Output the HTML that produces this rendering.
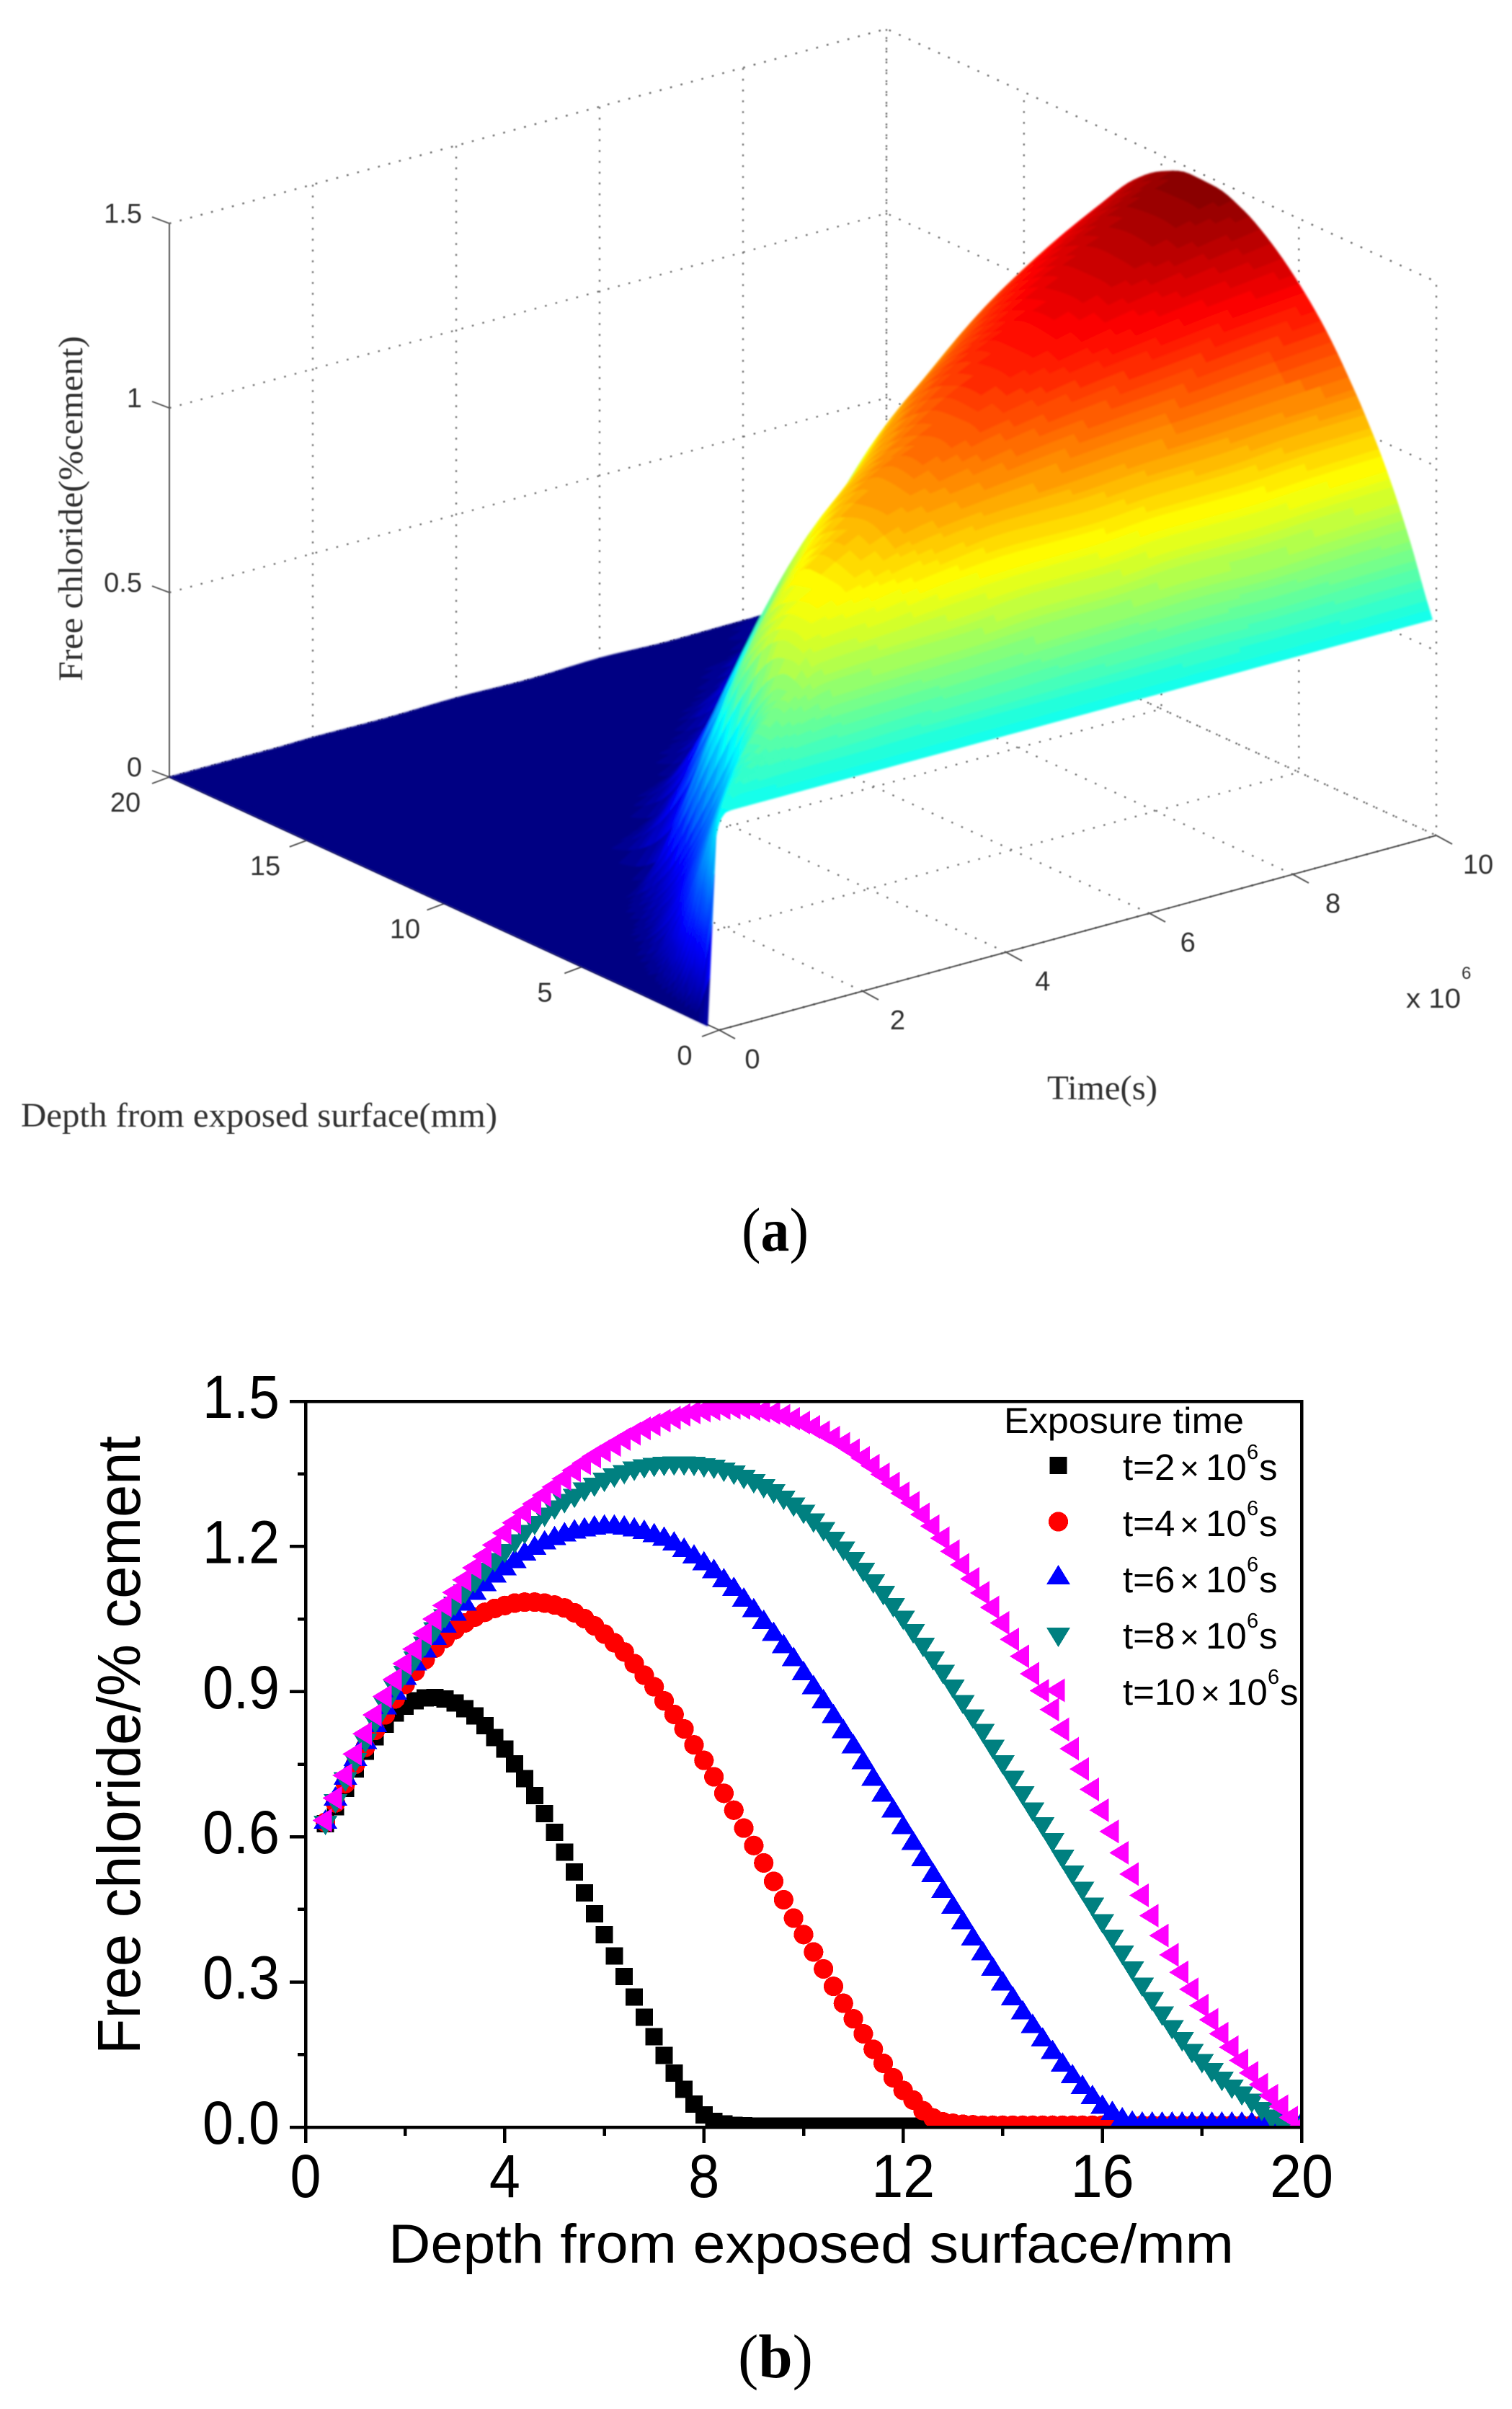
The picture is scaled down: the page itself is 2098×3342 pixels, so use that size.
<!DOCTYPE html>
<html lang="en">
<head>
<meta charset="utf-8">
<title>Free chloride profiles</title>
<style>
html,body{margin:0;padding:0;background:#fff;}
svg{display:block;}
.sans{font-family:"Liberation Sans",sans-serif;}
.serif{font-family:"Liberation Serif",serif;}
</style>
</head>
<body>
<svg id="fig" xmlns="http://www.w3.org/2000/svg" width="2098" height="3342" viewBox="0 0 2098 3342">
  <defs>
    <filter id="soft" filterUnits="userSpaceOnUse" x="0" y="0" width="2098" height="1700"><feGaussianBlur stdDeviation="1.3"/></filter>
    <filter id="softText" filterUnits="userSpaceOnUse" x="0" y="0" width="2098" height="1700"><feGaussianBlur stdDeviation="0.6"/></filter>
    <clipPath id="plotClip"><rect x="421" y="1942" width="1387" height="1011.5"/></clipPath>
  </defs>
  <rect x="0" y="0" width="2098" height="3342" fill="#fff"/>

  <g id="panelA">
    <g id="a-grid" fill="none" stroke="#777" stroke-width="2.4" stroke-dasharray="2.6 12.4" filter="url(#softText)"></g>
    <g id="a-axes" fill="none" stroke="#555" stroke-width="2" filter="url(#softText)"></g>
    <g id="a-surface" filter="url(#soft)"></g>
    <g id="a-labels" class="sans" font-size="38" fill="#333" filter="url(#softText)"></g>
    <g filter="url(#softText)" fill="#333">
      <text class="sans" x="1951" y="1398" font-size="38" textLength="76" lengthAdjust="spacingAndGlyphs">x 10</text>
      <text class="sans" x="2028" y="1358" font-size="24">6</text>
      <text class="serif" x="1453" y="1525" font-size="48" textLength="153" lengthAdjust="spacingAndGlyphs">Time(s)</text>
      <text class="serif" x="29" y="1563" font-size="48" textLength="661" lengthAdjust="spacingAndGlyphs">Depth from exposed surface(mm)</text>
      <text class="serif" x="0" y="0" font-size="48" textLength="479" lengthAdjust="spacingAndGlyphs" transform="translate(114 945) rotate(-90)">Free chloride(%cement)</text>
    </g>
  </g>
  <text class="serif" x="1029" y="1735" font-size="86" textLength="93" lengthAdjust="spacingAndGlyphs" fill="#000">(<tspan font-weight="bold">a</tspan>)</text>

  <g id="panelB">
    <g id="b-series" clip-path="url(#plotClip)" shape-rendering="crispEdges"></g>
    <g id="b-axes" stroke="#000" stroke-width="4.5" fill="none" shape-rendering="crispEdges"></g>
    <g id="b-labels" class="sans" font-size="84" fill="#000"></g>
    <text class="sans" x="539" y="3139" font-size="76" textLength="1173" lengthAdjust="spacingAndGlyphs" fill="#000">Depth from exposed surface/mm</text>
    <text class="sans" x="0" y="0" font-size="84" textLength="858" lengthAdjust="spacingAndGlyphs" fill="#000" transform="translate(194 2850) rotate(-90)">Free chloride/% cement</text>
    <g id="b-legend">
      <text class="sans" x="1393" y="1988" font-size="50" textLength="333" lengthAdjust="spacingAndGlyphs">Exposure time</text>
      <text class="sans" y="2053" font-size="51"><tspan x="1558">t=2</tspan><tspan x="1637" font-size="46">×</tspan><tspan x="1673">10</tspan><tspan x="1730" dy="-29" font-size="29">6</tspan><tspan x="1747" dy="29">s</tspan></text>
      <text class="sans" y="2131" font-size="51"><tspan x="1558">t=4</tspan><tspan x="1637" font-size="46">×</tspan><tspan x="1673">10</tspan><tspan x="1730" dy="-29" font-size="29">6</tspan><tspan x="1747" dy="29">s</tspan></text>
      <text class="sans" y="2209" font-size="51"><tspan x="1558">t=6</tspan><tspan x="1637" font-size="46">×</tspan><tspan x="1673">10</tspan><tspan x="1730" dy="-29" font-size="29">6</tspan><tspan x="1747" dy="29">s</tspan></text>
      <text class="sans" y="2287" font-size="51"><tspan x="1558">t=8</tspan><tspan x="1637" font-size="46">×</tspan><tspan x="1673">10</tspan><tspan x="1730" dy="-29" font-size="29">6</tspan><tspan x="1747" dy="29">s</tspan></text>
      <text class="sans" y="2365" font-size="51"><tspan x="1558">t=10</tspan><tspan x="1666" font-size="46">×</tspan><tspan x="1702">10</tspan><tspan x="1759" dy="-29" font-size="29">6</tspan><tspan x="1776" dy="29">s</tspan></text>
    </g>
  </g>
  <text class="serif" x="1024" y="3298" font-size="86" textLength="104" lengthAdjust="spacingAndGlyphs" fill="#000">(<tspan font-weight="bold">b</tspan>)</text>
</svg>

<script>
/* ---------- panel (b) data ---------- */
const depths = [0.4,0.6,0.8,1.0,1.2,1.4,1.6,1.8,2.0,2.2,2.4,2.6,2.8,3.0,3.2,3.4,3.6,3.8,4.0,4.2,4.4,4.6,4.8,5.0,5.2,5.4,5.6,5.8,6.0,6.2,6.4,6.6,6.8,7.0,7.2,7.4,7.6,7.8,8.0,8.2,8.4,8.6,8.8,9.0,9.2,9.4,9.6,9.8,10.0,10.2,10.4,10.6,10.8,11.0,11.2,11.4,11.6,11.8,12.0,12.2,12.4,12.6,12.8,13.0,13.2,13.4,13.6,13.8,14.0,14.2,14.4,14.6,14.8,15.0,15.2,15.4,15.6,15.8,16.0,16.2,16.4,16.6,16.8,17.0,17.2,17.4,17.6,17.8,18.0,18.2,18.4,18.6,18.8,19.0,19.2,19.4,19.6,19.8,20.0];
const chlorideT2 = [.627,.662,.700,.740,.777,.807,.833,.856,.870,.881,.887,.888,.885,.877,.865,.850,.830,.805,.781,.751,.720,.685,.648,.609,.568,.527,.484,.441,.398,.354,.311,.269,.227,.187,.148,.112,.078,.048,.025,.012,.007,.004,.003,
  .002,.002,.002,.002,.002,.002,.002,.002,.002,.002,.002,.002,.002,.002,.002,.002,.002,.002,.002,.002,.002,.002,.002,.002,.002,.002,.002,.002,.002,.002,.002,.002,.002,.002,.002,.002,.002,.002,.002,.002,.002,.002,.002,.002,.002,.002,.002,.002,.002,.002,.002,.002,.002,.002,.002,.002];
const chlorideT4 = [.630,.670,.710,.750,.785,.820,.852,.885,.915,.942,.966,.990,1.010,1.028,1.042,1.054,1.064,1.072,1.078,1.083,1.085,1.085,1.083,1.079,1.073,1.063,1.051,1.036,1.019,1.001,.982,.958,.934,.910,.881,.853,.823,.790,.758,.724,.690,.655,.618,.582,.546,.508,.470,.432,.398,.362,.327,.291,.256,.224,.193,.161,.132,.102,.076,.056,.034,.019,.011,.008,.006,.005,
  .004,.004,.004,.004,.004,.004,.004,.004,.004,.004,.004,.004,.004,.004,.004,.004,.004,.004,.004,.004,.004,.004,.004,.004,.004,.004,.004,.004,.004,.004,.004,.004,.004];
const chlorideT6 = [.630,.678,.721,.760,.795,.830,.866,.897,.927,.957,.984,1.010,1.035,1.060,1.081,1.103,1.121,1.139,1.154,1.169,1.184,1.196,1.207,1.216,1.224,1.230,1.234,1.238,1.240,1.240,1.238,1.234,1.229,1.222,1.215,1.205,1.192,1.178,1.164,1.148,1.129,1.111,1.089,1.067,1.043,1.018,.993,.966,.937,.908,.879,.848,.817,.786,.753,.719,.686,.653,.619,.586,.553,.520,.487,.454,.422,.389,.358,.326,.296,.265,.236,.208,.180,.154,.128,.104,.082,.061,.041,.028,.015,.008,
  .006,.006,.006,.006,.006,.006,.006,.006,.006,.006,.006,.006,.006,.006,.006,.006,.006];
const chlorideT8 = [.630,.675,.720,.760,.800,.840,.875,.910,.940,.970,1.000,1.030,1.057,1.083,1.108,1.130,1.153,1.173,1.192,1.212,1.231,1.250,1.267,1.282,1.295,1.306,1.319,1.329,1.339,1.348,1.355,1.362,1.367,1.370,1.372,1.373,1.373,1.372,1.369,1.366,1.360,1.354,1.345,1.336,1.326,1.315,1.302,1.288,1.273,1.255,1.237,1.217,1.197,1.175,1.153,1.129,1.105,1.080,1.054,1.026,.998,.970,.942,.912,.880,.850,.820,.787,.755,.723,.691,.658,.627,.594,.560,.527,.494,.461,.427,.395,.362,.329,.296,.266,.236,.208,.183,.159,.138,.119,.101,.085,.071,.056,.039,.023,.012,.005,.002];
const chlorideT10 = [.634,.680,.727,.771,.813,.852,.890,.925,.958,.988,1.020,1.050,1.078,1.105,1.131,1.156,1.180,1.203,1.228,1.249,1.270,1.288,1.306,1.323,1.340,1.357,1.372,1.386,1.398,1.410,1.422,1.433,1.444,1.452,1.460,1.466,1.472,1.477,1.481,1.484,1.486,1.487,1.486,1.484,1.480,1.476,1.470,1.464,1.456,1.447,1.436,1.425,1.412,1.399,1.383,1.367,1.349,1.330,1.310,1.290,1.266,1.242,1.217,1.190,1.162,1.133,1.104,1.074,1.042,1.008,.973,.937,.902,.863,.822,.782,.740,.698,.655,.611,.567,.523,.479,.437,.396,.356,.320,.285,.251,.222,.193,.165,.138,.112,.088,.065,.043,.020,.002];
const xTickLabels = ["0","4","8","12","16","20"];
const yTickLabels = ["0.0","0.3","0.6","0.9","1.2","1.5"];
const xMinorTicks = [2,6,10,14,18];
const yMinorTicks = [0.15,0.45,0.75,1.05,1.35];

/* ---------- panel (a) data ---------- */
const surfaceDepths = [0.15,0.4,0.6,0.8,1,1.5,2,2.5,3,4,5,6,7,8,9,10,11,12,13,14,15,16,17,18,19,20];
const surfaceTimes = [0,0.03,0.1,0.25,0.5,1,1.5,2,3,4,5,6,7,8,9,10];
const surfT0   = [0,0,0,0,0,0,0,0,0,0,0,0,0,0,0,0,0,0,0,0,0,0,0,0,0,0];
const surfT003 = [.56,.30,.12,.04,.01,0,0,0,0,0,0,0,0,0,0,0,0,0,0,0,0,0,0,0,0,0];
const surfT01  = [.575,.50,.38,.26,.17,.05,.01,0,0,0,0,0,0,0,0,0,0,0,0,0,0,0,0,0,0,0];
const surfT025 = [.58,.60,.56,.50,.42,.27,.14,.06,.02,0,0,0,0,0,0,0,0,0,0,0,0,0,0,0,0,0];
const surfT05  = [.58,.62,.63,.62,.58,.47,.34,.22,.13,.02,0,0,0,0,0,0,0,0,0,0,0,0,0,0,0,0];
const surfT1   = [.58,.625,.655,.67,.68,.67,.59,.49,.38,.19,.06,.01,0,0,0,0,0,0,0,0,0,0,0,0,0,0];
const surfT15  = [.58,.627,.66,.69,.72,.76,.74,.68,.60,.41,.24,.10,.03,0,0,0,0,0,0,0,0,0,0,0,0,0];
const surfT2   = [.58,.627,.662,.70,.74,.82,.87,.888,.877,.781,.609,.398,.187,.025,.003,.002,.002,.002,.002,.002,.002,.002,.002,.002,.002,.002];
const surfT3   = [.58,.63,.668,.705,.745,.83,.89,.94,.97,.99,.92,.78,.60,.43,.23,.08,.01,0,0,0,0,0,0,0,0,0];
const surfT4   = [.58,.63,.67,.71,.75,.835,.915,.977,1.028,1.078,1.079,1.019,.91,.758,.582,.398,.224,.076,.008,.004,.004,.004,.004,.004,.004,.004];
const surfT5   = [.58,.63,.675,.716,.757,.85,.925,1.0,1.05,1.12,1.165,1.14,1.08,.98,.83,.655,.48,.31,.16,.05,.01,0,0,0,0,0];
const surfT6   = [.58,.63,.678,.721,.76,.848,.927,.997,1.06,1.154,1.216,1.24,1.222,1.164,1.067,.937,.786,.619,.454,.296,.154,.041,.006,.006,.006,.006];
const surfT7   = [.58,.632,.68,.725,.765,.86,.94,1.01,1.075,1.175,1.255,1.295,1.305,1.275,1.215,1.12,1.0,.85,.69,.53,.37,.22,.10,.02,0,0];
const surfT8   = [.58,.63,.675,.72,.76,.857,.94,1.015,1.083,1.192,1.282,1.339,1.37,1.369,1.336,1.273,1.175,1.054,.912,.755,.594,.427,.266,.138,.056,.002];
const surfT9   = [.58,.632,.678,.724,.766,.865,.95,1.03,1.095,1.212,1.305,1.37,1.415,1.43,1.42,1.375,1.30,1.20,1.07,.915,.74,.55,.36,.20,.09,.002];
const surfT10  = [.58,.634,.68,.727,.771,.87,.958,1.035,1.105,1.228,1.323,1.398,1.452,1.481,1.484,1.456,1.399,1.31,1.19,1.042,.863,.655,.437,.251,.112,.002];
const surfaceRows = [surfT0,surfT003,surfT01,surfT025,surfT05,surfT1,surfT15,surfT2,surfT3,surfT4,surfT5,surfT6,surfT7,surfT8,surfT9,surfT10];
const aChlorideTicks = ["0","0.5","1","1.5"];
const aDepthTicks = ["0","5","10","15","20"];
const aTimeTicks = ["0","2","4","6","8","10"];

const NS = "http://www.w3.org/2000/svg";
function make(tag, parent){
  const el = document.createElementNS(NS, tag);
  parent.appendChild(el);
  return el;
}

/* ---------- panel (b) axis functions ---------- */
function xScale(v){ return 424 + v * 69.1; }
function yScale(v){ return 2951 - v * 671.3; }

const bAxes = document.getElementById("b-axes");
const bLabels = document.getElementById("b-labels");
const bSeries = document.getElementById("b-series");
const bLegend = document.getElementById("b-legend");

const frame = make("rect", bAxes);
frame.setAttribute("x", xScale(0));
frame.setAttribute("y", yScale(1.5));
frame.setAttribute("width", xScale(20) - xScale(0));
frame.setAttribute("height", yScale(0) - yScale(1.5));



function tickLine(x1, y1, x2, y2, name){
  const l = make("line", bAxes);
  l.setAttribute("x1", x1);
  l.setAttribute("y1", y1);
  l.setAttribute("x2", x2);
  l.setAttribute("y2", y2);
  
  
}
xTickLabels.forEach(function(s){
  const v = parseFloat(s);
  tickLine(xScale(v), yScale(0), xScale(v), yScale(0) + 22, "b-x-major-tick");
  const t = make("text", bLabels);
  t.setAttribute("x", xScale(v));
  t.setAttribute("y", 3048);
  t.setAttribute("text-anchor", "middle");
  t.setAttribute("textLength", s.length > 1 ? 88 : 43);
  t.setAttribute("lengthAdjust", "spacingAndGlyphs");
  
  
  t.textContent = s;
});
xMinorTicks.forEach(function(v){
  tickLine(xScale(v), yScale(0), xScale(v), yScale(0) + 12, "b-x-minor-tick");
});
yTickLabels.forEach(function(s){
  const v = parseFloat(s);
  tickLine(xScale(0) - 22, yScale(v), xScale(0), yScale(v), "b-y-major-tick");
  const t = make("text", bLabels);
  t.setAttribute("x", 281);
  t.setAttribute("y", yScale(v) + 23);
  t.setAttribute("textLength", 107);
  t.setAttribute("lengthAdjust", "spacingAndGlyphs");
  
  
  t.textContent = s;
});
yMinorTicks.forEach(function(v){
  tickLine(xScale(0) - 11, yScale(v), xScale(0), yScale(v), "b-y-minor-tick");
});

function drawMarker(parent, kind, color, cx, cy, name){
  let m;
  if (kind === "square") {
    m = make("rect", parent);
    m.setAttribute("x", cx - 12);
    m.setAttribute("y", cy - 12);
    m.setAttribute("width", 24);
    m.setAttribute("height", 24);
  } else if (kind === "circle") {
    m = make("circle", parent);
    m.setAttribute("cx", cx);
    m.setAttribute("cy", cy);
    m.setAttribute("r", 13.6);
  } else {
    m = make("polygon", parent);
    let pts;
    if (kind === "up") {
      pts = [[cx, cy - 18], [cx + 16.5, cy + 9], [cx - 16.5, cy + 9]];
    } else if (kind === "down") {
      pts = [[cx, cy + 18], [cx + 16.5, cy - 9], [cx - 16.5, cy - 9]];
    } else {
      pts = [[cx - 18, cy], [cx + 9, cy - 16.5], [cx + 9, cy + 16.5]];
    }
    m.setAttribute("points", pts.map(function(p){ return p[0].toFixed(1) + "," + p[1].toFixed(1); }).join(" "));
  }
  m.setAttribute("fill", color);
  
  
}

const seriesValues = [chlorideT2, chlorideT4, chlorideT6, chlorideT8, chlorideT10];
const seriesKinds = ["square", "circle", "up", "down", "left"];
const seriesColors = ["#000000", "#ff0000", "#0000ff", "#008080", "#ff00ff"];
const seriesNames = ["t2", "t4", "t6", "t8", "t10"];

seriesValues.forEach(function(vals, s){
  const g = make("g", bSeries);
  
  
  vals.forEach(function(v, i){
    drawMarker(g, seriesKinds[s], seriesColors[s], xScale(depths[i]), yScale(v), "point-" + seriesNames[s]);
  });
  const legendGroup = make("g", bLegend);
  
  
  legendGroup.setAttribute("shape-rendering", "crispEdges");
  drawMarker(legendGroup, seriesKinds[s], seriesColors[s], 1468.5, 2033 + 78 * s, "legend-symbol-" + seriesNames[s]);
});

/* ---------- panel (a) projection ---------- */
function project(d, t, z){
  return [998 - 38.15 * d + 99.5 * t, 1429 - 17.55 * d - 27 * t - 512 * z];
}
/* the exposed-face curtain leans a little left near the floor */
function projectSheet(d, t, z){
  const p = project(d, t, z);
  const lean = 11 * Math.max(0, 1 - z / 0.58) * Math.max(0, 1 - d / 3);
  return [p[0] - lean, p[1] - lean * 0.3];
}
const aGrid = document.getElementById("a-grid");
const aAxes = document.getElementById("a-axes");
const aSurface = document.getElementById("a-surface");
const aLabels = document.getElementById("a-labels");

function polyline(parent, pts, name){
  const l = make("polyline", parent);
  l.setAttribute("points", pts.map(function(p){ return p[0].toFixed(1) + "," + p[1].toFixed(1); }).join(" "));
  
  
}
aChlorideTicks.forEach(function(s){
  const z = parseFloat(s);
  if (z > 0) {
    polyline(aGrid, [project(20, 0, z), project(20, 10, z), project(0, 10, z)], "a-wall-gridline");
  }
  const p = project(20, 0, z);
  polyline(aAxes, [p, [p[0] - 24, p[1] - 9]], "a-chloride-tick");
  const t = make("text", aLabels);
  t.setAttribute("x", 197);
  t.setAttribute("y", p[1] - 1);
  t.setAttribute("text-anchor", "end");
  
  
  t.textContent = s;
});
aTimeTicks.forEach(function(s){
  const v = parseFloat(s);
  if (v > 0) {
    polyline(aGrid, [project(0, v, 0), project(20, v, 0), project(20, v, 1.5)], "a-time-gridline");
  }
  const p = project(0, v, 0);
  polyline(aAxes, [p, [p[0] + 22, p[1] + 12]], "a-time-tick");
  const t = make("text", aLabels);
  t.setAttribute("x", p[0] + 46 + 1.2 * v);
  t.setAttribute("y", p[1] + 53);
  t.setAttribute("text-anchor", "middle");
  
  
  t.textContent = s;
});
aDepthTicks.forEach(function(s){
  const v = parseFloat(s);
  if (v > 0) {
    polyline(aGrid, [project(v, 0, 0), project(v, 10, 0), project(v, 10, 1.5)], "a-depth-gridline");
  }
  const p = project(v, 0, 0);
  polyline(aAxes, [p, [p[0] - 24, p[1] + 9]], "a-depth-tick");
  const t = make("text", aLabels);
  t.setAttribute("x", p[0] - 48 - 0.65 * v);
  t.setAttribute("y", p[1] + 48);
  t.setAttribute("text-anchor", "middle");
  
  
  t.textContent = s;
});
polyline(aGrid, [project(0, 0, 0), project(0, 10, 0), project(20, 10, 0), project(20, 0, 0)], "a-floor-edge");
polyline(aGrid, [project(20, 0, 1.5), project(20, 10, 1.5), project(0, 10, 1.5), project(0, 10, 0)], "a-box-top-edge");
polyline(aAxes, [project(20, 0, 0), project(20, 0, 1.5)], "a-chloride-axis");
polyline(aAxes, [project(0, 0, 0), project(0, 10, 0)], "a-time-axis");
polyline(aAxes, [project(0, 0, 0), project(20, 0, 0)], "a-depth-axis");

/* monotone smooth interpolation between the read values */
function tangents(xs, ys){
  const n = xs.length;
  const s = [];
  for (let i = 0; i < n - 1; i++) { s.push((ys[i + 1] - ys[i]) / (xs[i + 1] - xs[i])); }
  const m = [s[0]];
  for (let i = 1; i < n - 1; i++) {
    m.push(s[i - 1] * s[i] > 0 ? 2 * s[i - 1] * s[i] / (s[i - 1] + s[i]) : 0);
  }
  m.push(s[n - 2]);
  return m;
}
function hermite(xs, ys, m, i, f){
  const h = xs[i + 1] - xs[i];
  const f2 = f * f, f3 = f2 * f;
  return (2 * f3 - 3 * f2 + 1) * ys[i] + (f3 - 2 * f2 + f) * h * m[i] + (-2 * f3 + 3 * f2) * ys[i + 1] + (f3 - f2) * h * m[i + 1];
}
const SUB = 5;
function refine(xs){
  const out = [];
  for (let i = 0; i < xs.length - 1; i++) {
    for (let k = 0; k < SUB; k++) { out.push([i, k / SUB, xs[i] + (xs[i + 1] - xs[i]) * k / SUB]); }
  }
  out.push([xs.length - 2, 1, xs[xs.length - 1]]);
  return out;
}
const fineTimes = refine(surfaceTimes);
const fineDepths = refine(surfaceDepths);
const columnTangents = surfaceDepths.map(function(_, j){
  return tangents(surfaceTimes, surfaceRows.map(function(r){ return r[j]; }));
});
const fineGrid = fineTimes.map(function(ft){
  const col = surfaceDepths.map(function(_, j){
    return Math.max(0, hermite(surfaceTimes, surfaceRows.map(function(r){ return r[j]; }), columnTangents[j], ft[0], ft[1]));
  });
  const m = tangents(surfaceDepths, col);
  return fineDepths.map(function(fd){ return Math.max(0, hermite(surfaceDepths, col, m, fd[0], fd[1])); });
});

/* jet colormap with 64 flat levels */
const surfaceMax = Math.max.apply(null, surfaceRows.map(function(r){ return Math.max.apply(null, r); }));
function jet(c){
  const level = Math.min(63, Math.max(0, Math.floor(c / surfaceMax * 64)));
  const u = (level + 0.25) / 64;
  const ch = function(o){ return Math.round(255 * Math.max(0, Math.min(1, 1.5 - Math.abs(4 * u - o)))); };
  return "rgb(" + ch(3) + "," + ch(2) + "," + ch(1) + ")";
}
for (let i = fineTimes.length - 2; i >= 0; i--) {
  for (let j = fineDepths.length - 2; j >= 0; j--) {
    const t0 = fineTimes[i][2], t1 = fineTimes[i + 1][2];
    const d0 = fineDepths[j][2], d1 = fineDepths[j + 1][2];
    const z00 = fineGrid[i][j], z01 = fineGrid[i][j + 1], z10 = fineGrid[i + 1][j], z11 = fineGrid[i + 1][j + 1];
    const corners = [projectSheet(d0, t0, z00), projectSheet(d1, t0, z01), projectSheet(d1, t1, z11), projectSheet(d0, t1, z10)];
    const col = jet((z00 + z01 + z10 + z11) / 4);
    const cell = make("polygon", aSurface);
    cell.setAttribute("points", corners.map(function(p){ return p[0].toFixed(1) + "," + p[1].toFixed(1); }).join(" "));
    cell.setAttribute("fill", col);
    cell.setAttribute("stroke", col);
    cell.setAttribute("stroke-width", "1");
    
    
  }
}
</script>
</body>
</html>
